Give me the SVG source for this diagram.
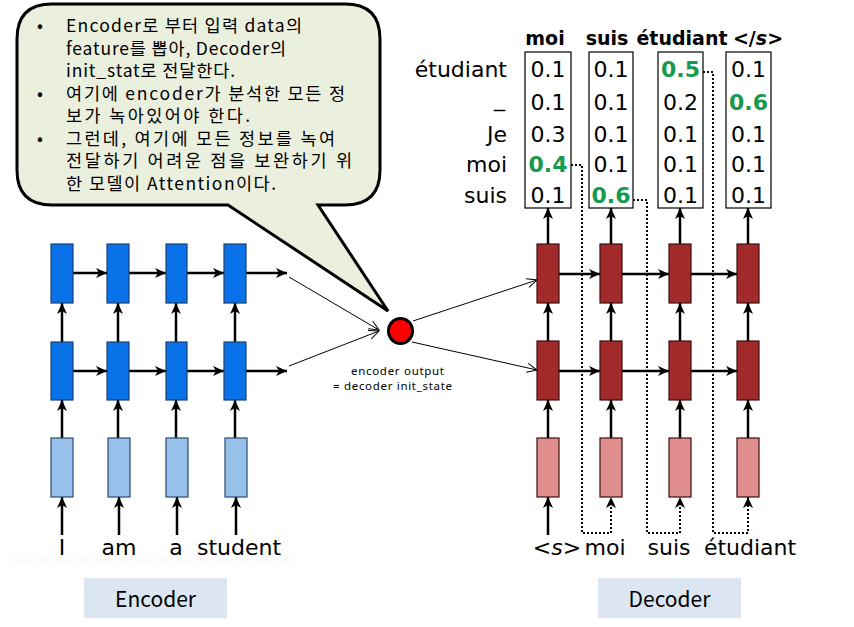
<svg xmlns="http://www.w3.org/2000/svg" width="854" height="627" viewBox="0 0 854 627">
<defs>
<marker id="ah" markerUnits="userSpaceOnUse" markerWidth="12" markerHeight="12" refX="11" refY="6" orient="auto">
<path d="M0,1 L11,6 L0,11 L3,6 Z" fill="#000"/>
</marker>
<marker id="oa" markerUnits="userSpaceOnUse" markerWidth="12" markerHeight="12" refX="11" refY="6" orient="auto">
<path d="M1,1.5 L11,6 L1,10.5" fill="none" stroke="#000" stroke-width="1"/>
</marker>
<style>
.eb{fill:#0A72E8;stroke:#1B3F73;stroke-width:1.2}
.el{fill:#97C1EA;stroke:#2B4A70;stroke-width:1.2}
.db{fill:#A32A2A;stroke:#3A1010;stroke-width:1.2}
.dl{fill:#E08D8D;stroke:#3A1010;stroke-width:1.2}
.ar{stroke:#000;stroke-width:2.5;fill:none;marker-end:url(#ah)}
.dt{stroke:#000;stroke-width:2;fill:none;stroke-dasharray:2 2;marker-end:url(#ah)}
.th{stroke:#000;stroke-width:1;fill:none;marker-end:url(#oa)}
.w{font-family:"DejaVu Sans",sans-serif;font-size:22px;fill:#000;text-anchor:middle}
.rl{font-family:"DejaVu Sans",sans-serif;font-size:22px;fill:#000;text-anchor:end}
.v{font-family:"DejaVu Sans",sans-serif;font-size:22px;fill:#000;text-anchor:middle}
.g{font-weight:bold;fill:#179A4F}
.hd{font-family:"DejaVu Sans",sans-serif;font-size:19px;font-weight:bold;fill:#000;text-anchor:middle}
.pb{fill:#fff;stroke:#000;stroke-width:1.2}
.bt{font-family:"Noto Sans CJK KR","Noto Sans",sans-serif;font-size:17.5px;fill:#000}
.sm{font-family:"Noto Sans","Noto Sans CJK KR",sans-serif;font-size:11.5px;fill:#000}
.lb{font-family:"Noto Sans CJK KR","Noto Sans",sans-serif;font-size:21px;fill:#000;text-anchor:middle}
</style>
</defs>
<rect width="854" height="627" fill="#fff"/>

<line x1="5" y1="560" x2="300" y2="560" stroke="#ececec" stroke-width="1" stroke-dasharray="3 2"/>

<g id="connectors">
<path class="ar" d="M73,273 H107"/>
<path class="ar" d="M129,273 H166"/>
<path class="ar" d="M187,273 H224"/>
<path class="ar" d="M246,273 H287"/>
<path class="ar" d="M73,371 H107"/>
<path class="ar" d="M129,371 H166"/>
<path class="ar" d="M187,371 H224"/>
<path class="ar" d="M246,371 H287"/>
<path class="ar" d="M62,535 V497"/>
<path class="ar" d="M119,535 V497"/>
<path class="ar" d="M177,535 V497"/>
<path class="ar" d="M236,535 V497"/>
<path class="ar" d="M62,438 V400"/>
<path class="ar" d="M118,438 V400"/>
<path class="ar" d="M176,438 V400"/>
<path class="ar" d="M235,438 V400"/>
<path class="ar" d="M62,342 V303"/>
<path class="ar" d="M118,342 V303"/>
<path class="ar" d="M176,342 V303"/>
<path class="ar" d="M235,342 V303"/>
<path class="th" d="M289,277 L379,330"/>
<path class="th" d="M289,366 L379,331"/>
<path class="th" d="M413,321 L537,280"/>
<path class="th" d="M412,342 L537,370"/>
<path class="ar" d="M559,274 H600"/>
<path class="ar" d="M622,274 H669"/>
<path class="ar" d="M691,274 H737"/>
<path class="ar" d="M559,371 H600"/>
<path class="ar" d="M622,371 H669"/>
<path class="ar" d="M691,371 H737"/>
<path class="ar" d="M548,535 V497"/>
<path class="ar" d="M548,438 V400"/>
<path class="ar" d="M611,438 V400"/>
<path class="ar" d="M680,438 V400"/>
<path class="ar" d="M748,438 V400"/>
<path class="ar" d="M548,341 V303"/>
<path class="ar" d="M611,341 V303"/>
<path class="ar" d="M680,341 V303"/>
<path class="ar" d="M748,341 V303"/>
<path class="ar" d="M548,244 V208"/>
<path class="ar" d="M611,244 V208"/>
<path class="ar" d="M680,244 V208"/>
<path class="ar" d="M748,244 V208"/>
<path class="dt" d="M571,165 H582 V533 H611 V497"/>
<path class="dt" d="M633,200 H647 V533 H680 V497"/>
<path class="dt" d="M703,72 H713 V533 H748 V497"/>
</g>

<g id="bubble">
<path d="M52,4 H345 Q380,4 380,39 V170 Q380,205 345,205 H318 L388,311 L228,205 H52 Q17,205 17,170 V39 Q17,4 52,4 Z" fill="#EBF0DE" stroke="#000" stroke-width="3" stroke-linejoin="miter"/>
<text class="bt" x="37" y="32">•</text>
<text class="bt" x="66" y="32" textLength="236" lengthAdjust="spacing">Encoder로 부터 입력 data의</text>
<text class="bt" x="66" y="55" textLength="220" lengthAdjust="spacing">feature를 뽑아, Decoder의</text>
<text class="bt" x="66" y="77" textLength="169" lengthAdjust="spacing">init_stat로 전달한다.</text>
<text class="bt" x="37" y="100">•</text>
<text class="bt" x="66" y="100" textLength="279" lengthAdjust="spacing">여기에 encoder가 분석한 모든 정</text>
<text class="bt" x="66" y="122" textLength="184" lengthAdjust="spacing">보가 녹아있어야 한다.</text>
<text class="bt" x="37" y="145">•</text>
<text class="bt" x="66" y="145" textLength="269" lengthAdjust="spacing">그런데, 여기에 모든 정보를 녹여</text>
<text class="bt" x="66" y="167" textLength="286" lengthAdjust="spacing">전달하기 어려운 점을 보완하기 위</text>
<text class="bt" x="66" y="190" textLength="210" lengthAdjust="spacing">한 모델이 Attention이다.</text>
</g>

<g id="encoder">
<rect class="eb" x="51" y="244" width="22" height="59"/>
<rect class="eb" x="107" y="244" width="22" height="59"/>
<rect class="eb" x="166" y="244" width="21" height="59"/>
<rect class="eb" x="224" y="244" width="22" height="59"/>
<rect class="eb" x="51" y="342" width="22" height="58"/>
<rect class="eb" x="107" y="342" width="22" height="58"/>
<rect class="eb" x="166" y="342" width="21" height="58"/>
<rect class="eb" x="224" y="342" width="22" height="58"/>
<rect class="el" x="51" y="438" width="22" height="59"/>
<rect class="el" x="108" y="438" width="22" height="59"/>
<rect class="el" x="166" y="438" width="22" height="59"/>
<rect class="el" x="225" y="438" width="22" height="59"/>
<text class="w" x="62" y="555">I</text>
<text class="w" x="119" y="555">am</text>
<text class="w" x="176" y="555">a</text>
<text class="w" x="239" y="555">student</text>
</g>

<g id="state">
<ellipse cx="400.5" cy="331" rx="12" ry="12.5" fill="#FF0000" stroke="#000" stroke-width="3"/>
<text class="sm" x="351" y="375" textLength="93" lengthAdjust="spacing">encoder output</text>
<text class="sm" x="333" y="390" textLength="119" lengthAdjust="spacing">= decoder init_state</text>
</g>

<g id="decoder">
<rect class="db" x="537" y="244" width="22" height="59"/>
<rect class="db" x="600" y="244" width="22" height="59"/>
<rect class="db" x="669" y="244" width="22" height="59"/>
<rect class="db" x="737" y="244" width="22" height="59"/>
<rect class="db" x="537" y="341" width="22" height="59"/>
<rect class="db" x="600" y="341" width="22" height="59"/>
<rect class="db" x="669" y="341" width="22" height="59"/>
<rect class="db" x="737" y="341" width="22" height="59"/>
<rect class="dl" x="537" y="438" width="22" height="59"/>
<rect class="dl" x="600" y="438" width="22" height="59"/>
<rect class="dl" x="669" y="438" width="22" height="59"/>
<rect class="dl" x="737" y="438" width="22" height="59"/>
<text class="w" x="557" y="555" font-size="19">&lt;<tspan font-style="italic">s</tspan>&gt;</text>
<text class="w" x="605" y="555">moi</text>
<text class="w" x="669" y="555">suis</text>
<text class="w" x="750" y="555">étudiant</text>
</g>

<g id="probs">
<text class="hd" x="545" y="45">moi</text>
<text class="hd" x="607" y="45">suis</text>
<text class="hd" x="682" y="45">étudiant</text>
<text class="hd" x="758" y="45">&lt;/<tspan font-style="italic">s</tspan>&gt;</text>
<text class="rl" x="507" y="77">étudiant</text>
<text class="rl" x="505" y="106" font-size="15">_</text>
<text class="rl" x="507" y="142">Je</text>
<text class="rl" x="507" y="172">moi</text>
<text class="rl" x="507" y="203">suis</text>
<rect class="pb" x="525" y="52" width="46" height="156"/>
<rect class="pb" x="589" y="52" width="44" height="156"/>
<rect class="pb" x="658" y="52" width="45" height="156"/>
<rect class="pb" x="726" y="52" width="45" height="156"/>
<text class="v" x="548" y="77">0.1</text>
<text class="v" x="548" y="110">0.1</text>
<text class="v" x="548" y="142">0.3</text>
<text class="v g" x="548" y="172">0.4</text>
<text class="v" x="548" y="203">0.1</text>
<text class="v" x="611" y="77">0.1</text>
<text class="v" x="611" y="110">0.1</text>
<text class="v" x="611" y="142">0.1</text>
<text class="v" x="611" y="172">0.1</text>
<text class="v g" x="611" y="203">0.6</text>
<text class="v g" x="680.5" y="77">0.5</text>
<text class="v" x="680.5" y="110">0.2</text>
<text class="v" x="680.5" y="142">0.1</text>
<text class="v" x="680.5" y="172">0.1</text>
<text class="v" x="680.5" y="203">0.1</text>
<text class="v" x="748.5" y="77">0.1</text>
<text class="v g" x="748.5" y="110">0.6</text>
<text class="v" x="748.5" y="142">0.1</text>
<text class="v" x="748.5" y="172">0.1</text>
<text class="v" x="748.5" y="203">0.1</text>
</g>

<g id="encoder-label">
<rect x="84" y="578" width="143" height="40" fill="#DCE6F2"/>
<text class="lb" x="155.5" y="607">Encoder</text>
</g>
<g id="decoder-label">
<rect x="598" y="578" width="143" height="40" fill="#DCE6F2"/>
<text class="lb" x="669.5" y="607">Decoder</text>
</g>
</svg>
